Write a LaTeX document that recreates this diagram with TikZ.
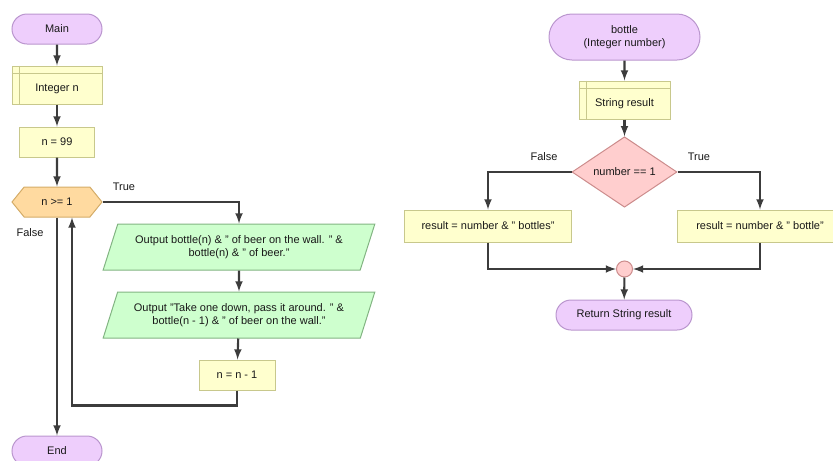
\documentclass[tikz,border=0pt]{standalone}
\usepackage{fontspec}
\setmainfont{Liberation Sans}
\usetikzlibrary{positioning}
\usetikzlibrary{shapes.misc,shapes.geometric,shapes.symbols}
\usetikzlibrary{arrows}
\definecolor{termfill}{RGB}{238,206,252}
\definecolor{termdraw}{RGB}{186,150,206}
\definecolor{procfill}{RGB}{255,255,206}
\definecolor{procdraw}{RGB}{200,200,140}
\definecolor{loopfill}{RGB}{255,218,160}
\definecolor{loopdraw}{RGB}{212,172,104}
\definecolor{iofill}{RGB}{206,255,206}
\definecolor{iodraw}{RGB}{130,180,130}
\definecolor{ifill}{RGB}{255,206,206}
\definecolor{idraw}{RGB}{204,140,140}
\definecolor{linecol}{RGB}{60,60,60}
\tikzset{
	base/.style={draw, line width=0.75pt, inner sep=0pt, align=center, text=black!90, font=\fontsize{8.25}{10}\selectfont},
	term/.style={base, rounded rectangle, fill=termfill, draw=termdraw},
	proc/.style={base, rectangle, fill=procfill, draw=procdraw},
	cond/.style={base, signal, signal to=west and east, signal pointer angle=102, fill=loopfill, draw=loopdraw},
	iobox/.style={base, trapezium, trapezium stretches=true, trapezium left angle=62, trapezium right angle=118, fill=iofill, draw=iodraw},
	test/.style={base, diamond, fill=ifill, draw=idraw},
	merge/.style={base, circle, minimum size=12pt, fill=ifill, draw=idraw},
	lbl/.style={inner sep=0pt, text=black!90, font=\fontsize{8.25}{10}\selectfont},
	flow/.style={-latex, line width=1.6pt, draw=linecol},
}
\begin{document}
\begin{tikzpicture}[x=0.75pt, y=-0.75pt]
		\useasboundingbox (0,0) rectangle (833,461);
		% Main
		\node[term, minimum width=67.5pt, minimum height=22.5pt] (main) at (57,29) {Main};
		\node[proc, minimum width=67.5pt, minimum height=28.5pt] (intn) at (57,85) {\rule{0pt}{12pt}Integer n};
		\draw[procdraw, line width=0.75pt] ([yshift=-6pt]intn.north west) -- ([yshift=-6pt]intn.north east);
		\draw[procdraw, line width=0.75pt] ([xshift=6pt]intn.north west) -- ([xshift=6pt]intn.south west);
		\node[proc, minimum width=56.25pt, minimum height=22.5pt] (n99) at (57,142) {n = 99};
		\node[cond, minimum width=67.5pt, minimum height=22.5pt] (loop) at (57,202) {n >= 1};
		\node[iobox, minimum width=204pt, minimum height=34.5pt] (out1) at (239,247) {Output bottle(n) \& " of beer on the wall. " \&\\bottle(n) \& " of beer."};
		\node[iobox, minimum width=204pt, minimum height=34.5pt] (out2) at (239,315) {Output "Take one down, pass it around. " \&\\bottle(n - 1) \& " of beer on the wall."};
		\node[proc, minimum width=57pt, minimum height=22.5pt] (dec) at (237,375) {n = n - 1};
		\node[term, minimum width=67.5pt, minimum height=22.5pt] (end) at (57,451) {End};
		\node[lbl] (ltrue) at (124,187) {True};
		\node[lbl] (lfalse) at (30,233) {False};

		\draw[flow] (main) -- (intn);
		\draw[flow] (intn) -- (n99);
		\draw[flow] (n99) -- (loop);
		\draw[flow] (loop.east) -| (out1.north);
		\draw[flow] (out1) -- (out2);
		\draw[flow] (out2) -- (dec);
		\draw[flow] (dec.south) -- ++(0,15) -| ([xshift=11.25pt]loop.south);
		\draw[flow] (loop.south) -- (end.north);

		% bottle
		\node[term, minimum width=113.25pt, minimum height=34.5pt] (bottle) at (624.5,37) {bottle\\(Integer number)};
		\node[proc, minimum width=68.25pt, minimum height=28.5pt] (sres) at (624.5,100) {\rule{0pt}{12pt}String result};
		\draw[procdraw, line width=0.75pt] ([yshift=-6pt]sres.north west) -- ([yshift=-6pt]sres.north east);
		\draw[procdraw, line width=0.75pt] ([xshift=6pt]sres.north west) -- ([xshift=6pt]sres.south west);
		\node[test, minimum width=78.75pt, minimum height=44.25pt] (one) at (624.5,172) {number == 1};
		\node[proc, minimum width=125.25pt, minimum height=24pt] (many) at (488,226) {result = number \& " bottles"};
		\node[proc, minimum width=124.5pt, minimum height=24pt] (single) at (760,226) {result = number \& " bottle"};
		\node[merge] (join) at (624.5,269) {};
		\node[term, minimum width=102pt, minimum height=22.5pt] (ret) at (624,315) {Return String result};
		\node[lbl] (rfalse) at (544,157) {False};
		\node[lbl] (rtrue) at (699,157) {True};

		\draw[flow] (bottle) -- (sres);
		\draw[flow] (sres) -- (one);
		\draw[flow] (one.west) -| (many.north);
		\draw[flow] (one.east) -| (single.north);
		\draw[flow] (many.south) |- (join.west);
		\draw[flow] (single.south) |- (join.east);
		\draw[flow] (join) -- (ret);
	\end{tikzpicture}
\end{document}
